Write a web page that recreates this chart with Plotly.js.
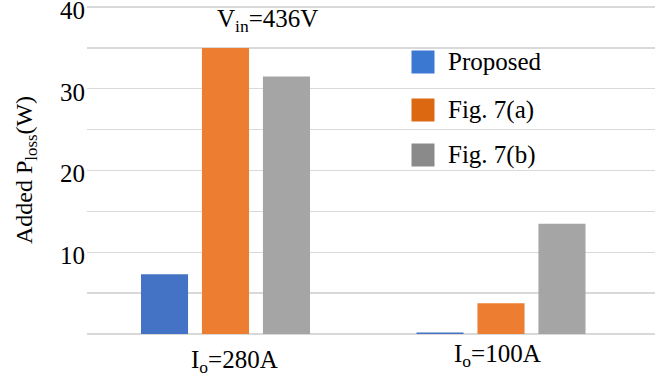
<!DOCTYPE html>
<html>
<head>
<meta charset="utf-8">
<script src="https://cdn.plot.ly/plotly-3.0.1.min.js"></script>
<style>
  html, body { margin: 0; padding: 0; background: #fff; }
  #chart { width: 661px; height: 379px; }
</style>
</head>
<body>
<div id="chart"></div>
<script>
// Added power loss per operating point
const categories = ['I<sub>o</sub>=280A', 'I<sub>o</sub>=100A'];
const seriesNames = ['Proposed', 'Fig. 7(a)', 'Fig. 7(b)'];
const proposed = [7.3, 0.18];
const fig7a = [35.0, 3.75];
const fig7b = [31.5, 13.5];
const yTickVals = [10, 20, 30, 40];
const yTickText = ['10', '20', '30', '40'];

const barColors = ['#4472C4', '#ED7D31', '#A5A5A5'];
const legendColors = ['#3A78D2', '#DD6812', '#8A8A8A'];
const FONT = 'Liberation Serif';
const FS = 25;

// plot-area geometry (pixels); the y range is padded a few pixels past 40
// so the top grid line and its label are kept
const W = 661, H = 379;
const M = { l: 87, r: 6, t: 3, b: 45 };
const PW = W - M.l - M.r, PH = H - M.t - M.b;
const PX_PER_UNIT = 327 / 40;
const Y_MAX = PH / PX_PER_UNIT;
const px = x => (x - M.l) / PW;        // pixel x -> paper x
const py = y => (H - M.b - y) / PH;    // pixel y -> paper y

const series = [proposed, fig7a, fig7b];
const xIdx = categories.map((_, i) => i);
const traces = series.map((vals, k) => ({
  type: 'bar',
  name: seriesNames[k],
  x: xIdx,
  y: vals,
  marker: { color: barColors[k], line: { width: 0 } },
  hoverinfo: 'skip',
  showlegend: false
}));

const txt = { family: FONT, size: FS, color: '#000' };
const annotations = [];
// category labels below the axis
const labelShift = [-10, -4];
categories.forEach((c, i) => {
  annotations.push({
    text: c, x: i, y: 0, xref: 'x', yref: 'y',
    xanchor: 'center', yanchor: 'top', yshift: labelShift[i], xshift: i === 0 ? 9 : -4,
    showarrow: false, font: txt
  });
});
// input voltage note
annotations.push({
  text: 'V<sub>in</sub>=436V', x: px(267), y: py(3), xref: 'paper', yref: 'paper',
  xanchor: 'center', yanchor: 'top', yshift: 0,
  showarrow: false, font: txt
});
// y-axis title
annotations.push({
  text: 'Added P<sub>loss</sub>(W)', x: px(26), y: py(170), xref: 'paper', yref: 'paper',
  xanchor: 'center', yanchor: 'middle', textangle: -90,
  showarrow: false, font: { family: FONT, size: 24, color: '#000' }
});

// legend drawn as swatches + labels
const legendRows = [62, 110, 155];
const shapes = [];
seriesNames.forEach((n, k) => {
  const cy = legendRows[k];
  shapes.push({
    type: 'rect', xref: 'paper', yref: 'paper',
    x0: px(411.5), x1: px(434.5), y0: py(cy + 11.5), y1: py(cy - 11.5),
    fillcolor: legendColors[k], line: { width: 0 }
  });
  annotations.push({
    text: n, x: px(446), y: py(cy), xref: 'paper', yref: 'paper',
    xanchor: 'left', yanchor: 'middle',
    showarrow: false, font: txt
  });
});

// category axis range so groups sit at 225.5px and 501px
const unit = 501 - 225.5;
const xRange = [-(225.5 - M.l) / unit, 1 + (W - M.r - 501) / unit];

const grid = '#D9D9D9';
const layout = {
  width: W, height: H,
  margin: M,
  paper_bgcolor: '#fff', plot_bgcolor: '#fff',
  barmode: 'group',
  bargap: 0.336,
  bargroupgap: 0.228,
  showlegend: false,
  font: txt,
  xaxis: {
    type: 'linear', range: xRange, showticklabels: false,
    showgrid: false, zeroline: false, showline: false, ticks: ''
  },
  yaxis: {
    range: [0, Y_MAX], tickmode: 'array', tickvals: yTickVals, ticktext: yTickText,
    showgrid: true, gridcolor: grid, gridwidth: 1.3,
    minor: { tickmode: 'linear', tick0: 0, dtick: 5, showgrid: true, gridcolor: grid, gridwidth: 1.3 },
    zeroline: true, zerolinecolor: grid, zerolinewidth: 1.3,
    showline: false, ticks: '', ticklabelstandoff: 1,
    ticklabelshift: 3,
    ticklabeloverflow: 'allow',
    tickfont: txt
  },
  shapes: shapes,
  annotations: annotations
};

Plotly.newPlot('chart', traces, layout, { displayModeBar: false, staticPlot: true });
</script>
</body>
</html>
